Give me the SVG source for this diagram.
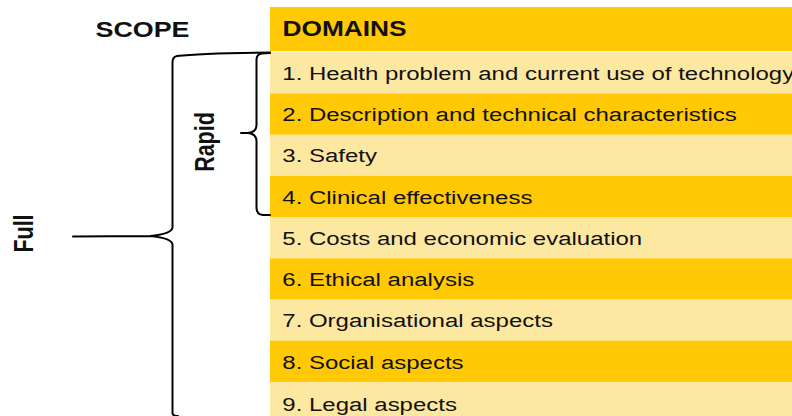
<svg xmlns="http://www.w3.org/2000/svg" width="792" height="416" viewBox="0 0 792 416">
  <style>
    .dark { fill: #FFC905; }
    .light { fill: #FDE8A1; }
    .row { font-family: "Liberation Sans", Arial, sans-serif; font-size: 18.6px; fill: #111; }
    .head { font-family: "Liberation Sans", Arial, sans-serif; font-size: 21.5px; font-weight: bold; fill: #111; }
    .brace { fill: none; stroke: #000; stroke-width: 2; stroke-linecap: round; stroke-linejoin: round; }
  </style>
  <rect width="792" height="416" fill="#fff"/>

  <g id="scope-label">
    <text class="head" text-anchor="middle" transform="translate(142.5,37) scale(1.25,1)">SCOPE</text>
  </g>
  <g id="domains-header">
    <rect class="dark" x="270" y="7" width="522" height="44.5"/>
    <text class="head" x="282.5" y="36.3" textLength="124" lengthAdjust="spacingAndGlyphs">DOMAINS</text>
  </g>
  <line x1="270" y1="51.8" x2="792" y2="51.8" stroke="#FFF6D8" stroke-width="1"/>

  <g id="row1"><rect class="light" x="270" y="52.3" width="522" height="41.3"/>
    <text class="row" transform="translate(282.3,80) scale(1.29,1)">1. Health problem and current use of technology</text></g>
  <g id="row2"><rect class="dark" x="270" y="93.5" width="522" height="41.3"/>
    <text class="row" transform="translate(282.3,121) scale(1.29,1)">2. Description and technical characteristics</text></g>
  <g id="row3"><rect class="light" x="270" y="134.7" width="522" height="41.3"/>
    <text class="row" transform="translate(282.3,162.3) scale(1.29,1)">3. Safety</text></g>
  <g id="row4"><rect class="dark" x="270" y="175.9" width="522" height="41.3"/>
    <text class="row" transform="translate(282.3,203.5) scale(1.29,1)">4. Clinical effectiveness</text></g>
  <g id="row5"><rect class="light" x="270" y="217.1" width="522" height="41.3"/>
    <text class="row" transform="translate(282.3,244.7) scale(1.29,1)">5. Costs and economic evaluation</text></g>
  <g id="row6"><rect class="dark" x="270" y="258.3" width="522" height="41.3"/>
    <text class="row" transform="translate(282.3,286) scale(1.29,1)">6. Ethical analysis</text></g>
  <g id="row7"><rect class="light" x="270" y="299.5" width="522" height="41.3"/>
    <text class="row" transform="translate(282.3,327.3) scale(1.29,1)">7. Organisational aspects</text></g>
  <g id="row8"><rect class="dark" x="270" y="340.7" width="522" height="41.3"/>
    <text class="row" transform="translate(282.3,368.6) scale(1.29,1)">8. Social aspects</text></g>
  <g id="row9"><rect class="light" x="270" y="381.9" width="522" height="42"/>
    <text class="row" transform="translate(282.3,410.5) scale(1.29,1)">9. Legal aspects</text></g>

  <g id="full-label">
    <text class="head" text-anchor="middle" font-size="20.8" transform="translate(33,233.5) scale(1.25,1) rotate(-90)">Full</text>
  </g>
  <g id="rapid-label">
    <text class="head" text-anchor="middle" transform="translate(213.5,142) scale(1.25,1) rotate(-90)">Rapid</text>
  </g>

  <g id="connectors">
    <path class="brace" d="M270,52.5 Q200,53 177,56 Q172.5,57 172.5,62 L172.5,227 Q172.5,234 150,236 L73,236.5 M150,236 Q172.5,238 172.5,245 L172.5,413 Q172.5,416 178,416"/>
    <path class="brace" d="M270,53 L262,53.5 Q256.5,54 256.5,60 L256.5,125 Q256.5,132 248,133 L241,133 M248,133 Q256.5,134 256.5,141 L256.5,208 Q256.5,214.5 263,215 L270,215"/>
  </g>
</svg>
